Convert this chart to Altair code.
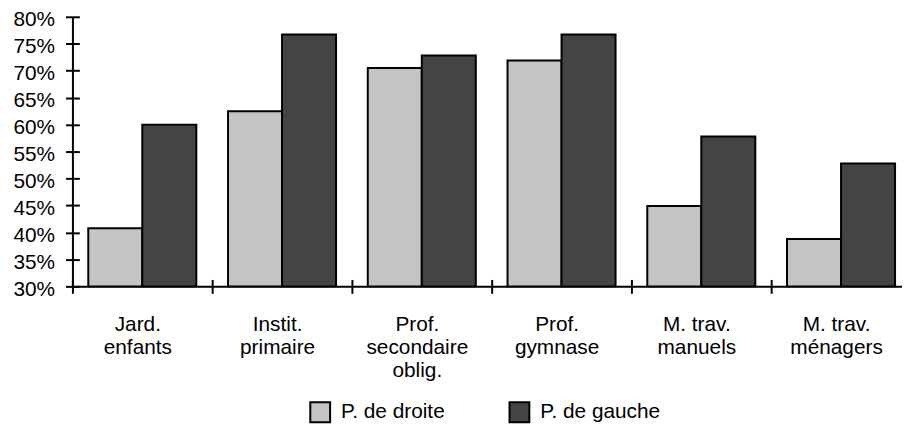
import altair as alt
import pandas as pd

categories = ["Jard.\nenfants", "Instit.\nprimaire", "Prof.\nsecondaire\noblig.",
              "Prof.\ngymnase", "M. trav.\nmanuels", "M. trav.\nménagers"]
series = ["P. de droite", "P. de gauche"]
droite = [0.408, 0.625, 0.705, 0.719, 0.449, 0.388]
gauche = [0.600, 0.767, 0.728, 0.767, 0.578, 0.528]
y_ticks = [0.30, 0.35, 0.40, 0.45, 0.50, 0.55, 0.60, 0.65, 0.70, 0.75, 0.80]
colors = ["#c4c4c4", "#444444"]

rows = []
for c, d, g in zip(categories, droite, gauche):
    rows.append({"cat": c, "serie": series[0], "val": d})
    rows.append({"cat": c, "serie": series[1], "val": g})
df = pd.DataFrame(rows)

FONT = "Liberation Sans"
FS = 21
W, H = 837, 272

xscale = alt.Scale(domain=categories, range=[0, 846], paddingInner=0, paddingOuter=0)
yscale = alt.Scale(domain=[0.30, 0.80], zero=False, nice=False)

bars = alt.Chart(df).mark_bar(stroke="black", strokeWidth=2).encode(
    x=alt.X("cat:N", scale=xscale, sort=categories,
            axis=alt.Axis(title=None, orient="bottom", tickBand="extent",
                          labelExpr="split(datum.label, '\\n')", labelAngle=0,
                          labelAlign="center", labelBaseline="top", labelPadding=21,
                          labelOffset=-5, labelLineHeight=23, labelOverlap=False,
                          tickSize=7, tickWidth=2, domainWidth=2, grid=False)),
    xOffset=alt.XOffset("serie:N", sort=series,
                        scale=alt.Scale(domain=series, paddingInner=0, paddingOuter=0.2936)),
    y=alt.Y("val:Q", scale=yscale,
            axis=alt.Axis(title=None, orient="left", values=y_ticks, format=".0%",
                          tickSize=7, tickWidth=2, domainWidth=2, labelPadding=11,
                          labelOffset=3, labelOverlap=False, labelBound=False,
                          grid=False)),
    y2=alt.datum(0.30),
    color=alt.Color("serie:N", sort=series,
                    scale=alt.Scale(domain=series, range=colors),
                    legend=alt.Legend(title=None, orient="none", legendX=239, legendY=388,
                                      direction="horizontal", symbolType="square",
                                      symbolSize=400, symbolStrokeColor="black",
                                      symbolStrokeWidth=2, labelFontSize=FS,
                                      labelFont=FONT, labelColor="black",
                                      columnPadding=61, labelOffset=10, padding=0)),
)

inner_ticks = alt.Chart(df).mark_point(opacity=0).encode(
    x=alt.X("cat:N", scale=xscale, sort=categories,
            axis=alt.Axis(title=None, orient="top", offset=-H, tickBand="extent",
                          labels=False, domain=False, tickSize=7, tickWidth=2, grid=False)),
    y=alt.Y("val:Q", scale=yscale,
            axis=alt.Axis(title=None, orient="right", offset=-W, values=y_ticks,
                          labels=False, domain=False, tickSize=7, tickWidth=2, grid=False)),
)

chart = alt.layer(bars, inner_ticks).properties(
    width=W, height=H,
    autosize=alt.AutoSizeParams(type="none"),
    padding={"left": 65, "top": 7, "right": 0, "bottom": 137},
).configure_view(strokeWidth=0).configure_axis(
    labelFont=FONT, labelFontSize=FS, labelColor="black",
    domainColor="black", tickColor="black",
)

chart.save("out.html", embed_options={"renderer": "svg", "actions": False})
